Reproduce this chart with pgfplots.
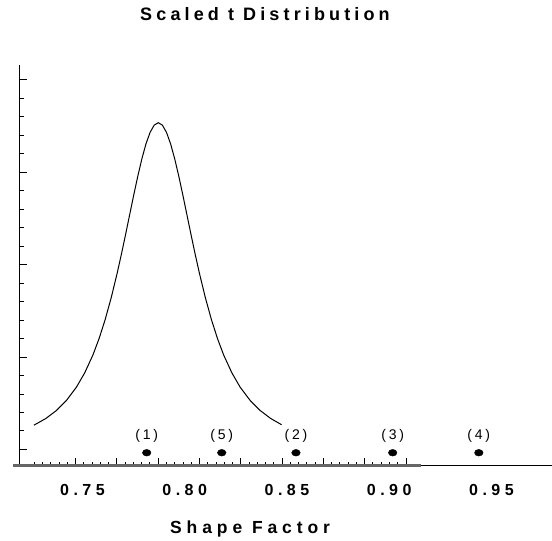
\documentclass[border=0pt]{standalone}
\usepackage{fontspec}
\setmainfont{Liberation Sans}
\newfontfamily\spcA[LetterSpace=23]{Liberation Sans}
\newfontfamily\spcB[LetterSpace=28]{Liberation Sans}
\newfontfamily\spcC[LetterSpace=20]{Liberation Sans}
\usepackage{pgfplots}
\pgfplotsset{compat=1.18}
\begin{document}
\begin{tikzpicture}
\begin{axis}[
  scale only axis,
  width=532.5pt, height=400.5pt,
  xmin=0.7192, xmax=0.9796,
  ymin=-0.173, ymax=4.157,
  axis x line*=bottom, axis y line*=left,
  axis line style={-, line width=1pt, black},
  clip=false,
  tick align=inside,
  major tick length=7.7pt, minor tick length=4pt,
  every tick/.style={black, line width=1pt},
  ytick={0,1,2,3,4}, yticklabels={}, minor y tick num=4,
  xtick={0.74666,0.766856,...,0.9085}, xticklabels={},
  minor xtick={0.72646,0.730499,...,0.9086},
  extra x ticks={0.75,0.80,0.85,0.90,0.95},
  extra x tick labels={0.75,0.80,0.85,0.90,0.95},
  extra x tick style={major tick length=0pt},
  xticklabel style={font=\fontsize{16}{18}\selectfont\spcB\bfseries, anchor=base, yshift=-29.5pt},
  title={Scaled t Distribution},
  title style={at={(rel axis cs:0.461,1)}, anchor=base, yshift=38.3pt, font=\fontsize{18}{20}\selectfont\spcA\bfseries},
  xlabel={Shape Factor},
  xlabel style={at={(rel axis cs:0.433,0)}, anchor=base, yshift=-67.8pt, font=\fontsize{17.5}{20}\selectfont\spcB\bfseries},
]
\addplot[black, line width=1pt] coordinates {
(0.72627,0.263) (0.73207,0.335) (0.73707,0.418) (0.74207,0.528) (0.74707,0.675)
(0.75107,0.828) (0.75507,1.020) (0.75807,1.196) (0.76107,1.403) (0.76407,1.643)
(0.76707,1.916) (0.76907,2.115) (0.77107,2.324) (0.77307,2.538) (0.77507,2.752)
(0.77707,2.957) (0.77907,3.145) (0.78107,3.306) (0.78307,3.429) (0.78507,3.507)
(0.78707,3.533) (0.78907,3.507) (0.79107,3.429) (0.79307,3.306) (0.79507,3.145)
(0.79707,2.957) (0.79907,2.752) (0.80107,2.538) (0.80307,2.324) (0.80507,2.115)
(0.80707,1.916) (0.81007,1.643) (0.81307,1.403) (0.81607,1.196) (0.81907,1.020)
(0.82307,0.828) (0.82707,0.675) (0.83207,0.528) (0.83707,0.418) (0.84207,0.335)
(0.84737,0.268)
};
\addplot[draw=black!60, line width=2.7pt, forget plot] coordinates {(0.71616,-0.173) (0.91553,-0.173)};
\addplot[only marks, mark=*, mark size=4.3pt, mark options={black, yscale=0.78},
  point meta=explicit symbolic, nodes near coords,
  every node near coord/.append style={anchor=center, yshift=16.5pt, font=\fontsize{14}{16}\selectfont\spcC}]
  table[meta=label] {
x y label
0.7814 -0.035 (1)
0.8181 -0.035 (5)
0.8544 -0.035 (2)
0.9017 -0.035 (3)
0.9438 -0.035 (4)
};
\coordinate (sw) at (rel axis cs:0,0);
\coordinate (ne) at (rel axis cs:1,1);
\end{axis}
\pgfresetboundingbox
\path[use as bounding box] ([shift={(-19.5pt,-75.5pt)}]sw) rectangle ([shift={(0pt,65pt)}]ne);
\end{tikzpicture}
\end{document}
